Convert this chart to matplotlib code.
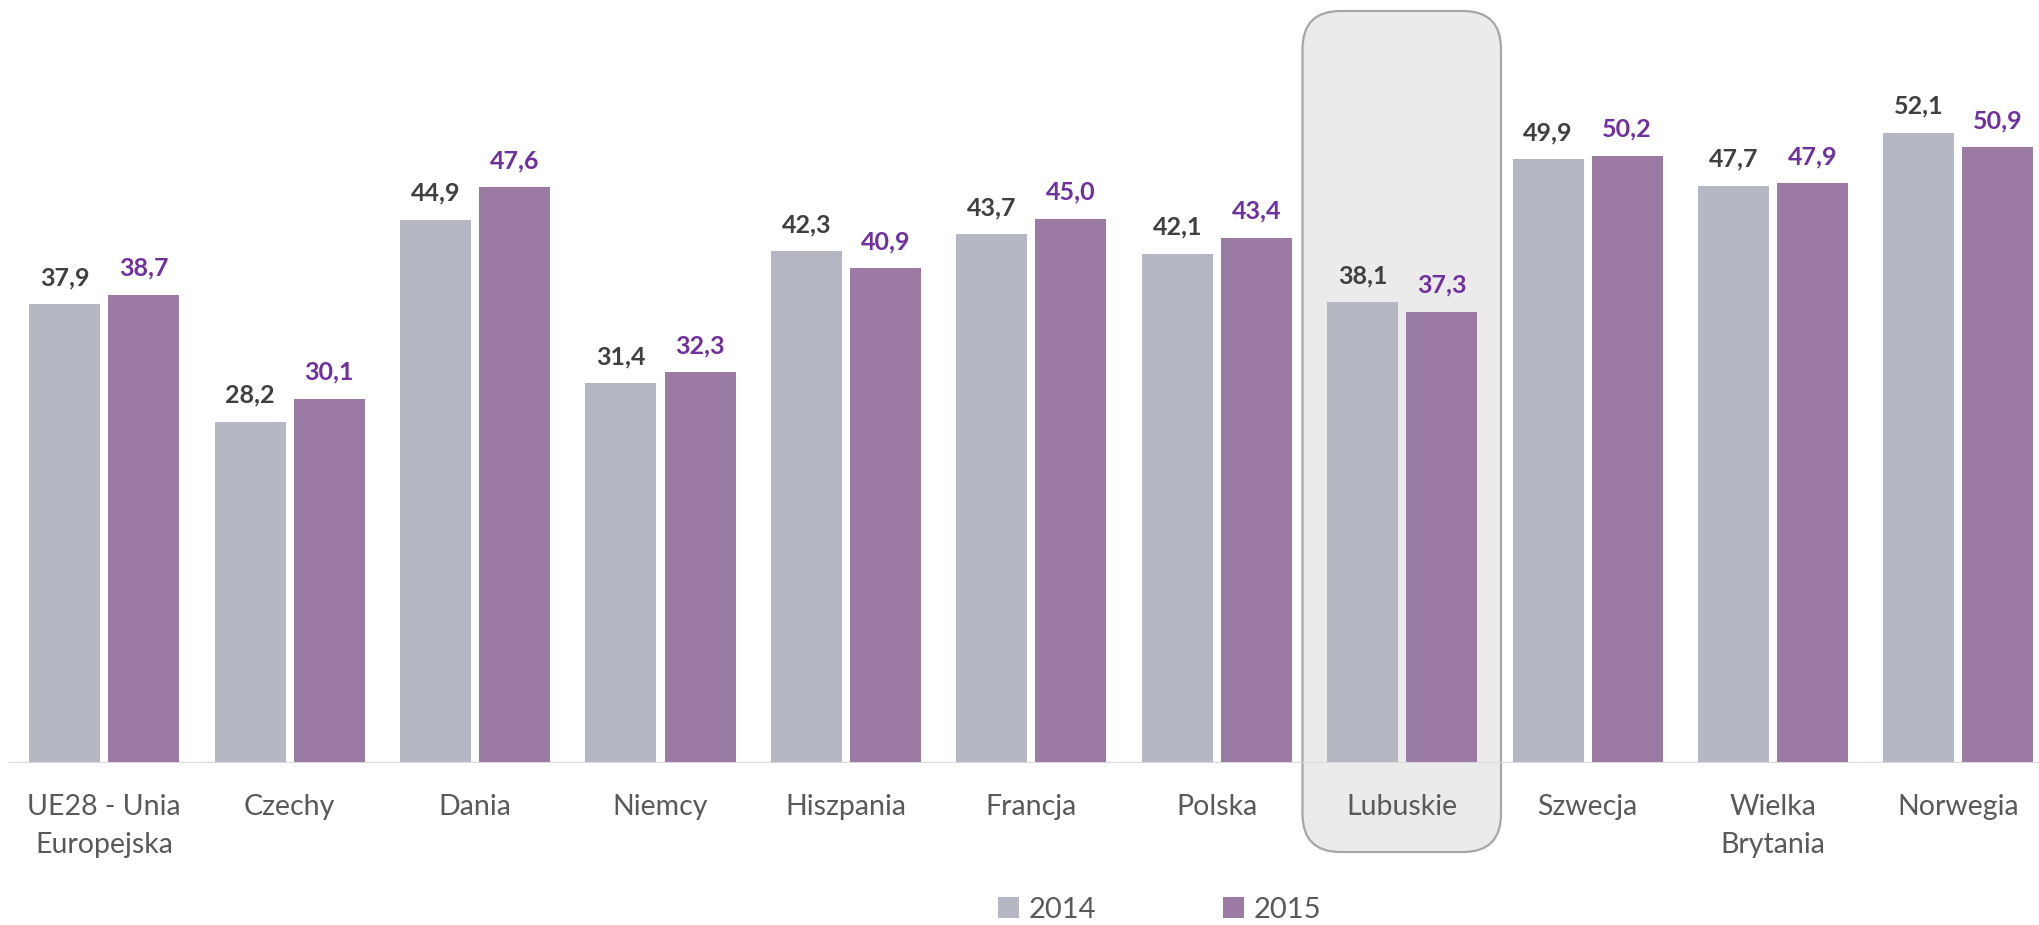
import matplotlib
matplotlib.use("Agg")
import matplotlib.pyplot as plt
from matplotlib.patches import FancyBboxPatch, Patch
import numpy as np

categories = ["UE28 - Unia\nEuropejska", "Czechy", "Dania", "Niemcy", "Hiszpania",
              "Francja", "Polska", "Lubuskie", "Szwecja", "Wielka\nBrytania", "Norwegia"]
values_2014 = [37.9, 28.2, 44.9, 31.4, 42.3, 43.7, 42.1, 38.1, 49.9, 47.7, 52.1]
values_2015 = [38.7, 30.1, 47.6, 32.3, 40.9, 45.0, 43.4, 37.3, 50.2, 47.9, 50.9]
series_labels = ["2014", "2015"]
highlight = "Lubuskie"

C14 = "#B5B7C4"
C15 = "#9B7BA3"
T14 = "#404040"
T15 = "#7030A0"
TXT = "#595959"
FONT = "Lato"

W, H = 2039, 925
fig = plt.figure(figsize=(W / 100, H / 100), dpi=100)
base_px = 763
ax = fig.add_axes([0, (H - base_px) / H, 1, base_px / H])

group_px = 185.4
first_px = 104.3
px_per_unit = 12.10
ax.set_xlim(-first_px / group_px, (W - first_px) / group_px)
ax.set_ylim(0, base_px / px_per_unit)

x = np.arange(len(categories))
bw = 71 / group_px
off = 39.5 / group_px
b1 = ax.bar(x - off, values_2014, bw, color=C14, zorder=3, label=series_labels[0])
b2 = ax.bar(x + off, values_2015, bw, color=C15, zorder=3, label=series_labels[1])

for rects, vals, col in ((b1, values_2014, T14), (b2, values_2015, T15)):
    for r, v in zip(rects, vals):
        ax.annotate(f"{v:.1f}".replace(".", ","),
                    (r.get_x() + r.get_width() / 2, r.get_height()),
                    xytext=(0, 13.7), textcoords="offset points",
                    ha="center", va="baseline", fontsize=18, fontweight="bold",
                    color=col, family=FONT, zorder=4)

# highlight box around the highlighted category
hi = categories.index(highlight)
left_px, right_px, top_px, bot_px = 1302.5, 1501.0, 11.0, 852.0
x0 = (left_px - first_px) / group_px
x1 = (right_px - first_px) / group_px
y1 = (base_px - top_px) / px_per_unit
y0 = (base_px - bot_px) / px_per_unit
aspect = group_px / px_per_unit
box = FancyBboxPatch((x0, y0), x1 - x0, y1 - y0,
                     boxstyle=f"round,pad=0,rounding_size={38 / group_px}",
                     mutation_aspect=aspect,
                     facecolor="#EBEBEB", edgecolor="#A6A6A6", linewidth=1.6,
                     clip_on=False, zorder=1)
ax.add_patch(box)

ax.axhline(0, xmin=10 / W, xmax=1, color="#D9D9D9", linewidth=1.5, zorder=5)

ax.set_xticks(x)
ax.set_xticklabels(categories, fontsize=20.5, color=TXT, family=FONT)
ax.tick_params(axis="x", length=0, pad=22.5)
for t in ax.get_xticklabels():
    t.set_linespacing(1.55)
    t.set_zorder(6)
ax.set_yticks([])
for s in ax.spines.values():
    s.set_visible(False)
ax.patch.set_alpha(0)

handles = [Patch(facecolor=C14), Patch(facecolor=C15)]
leg = fig.legend(handles, series_labels, loc="center", bbox_to_anchor=(1159.5 / W, 15 / H),
                 ncol=2, frameon=False, handlelength=0.72, handleheight=0.72,
                 handletextpad=0.34, columnspacing=4.35, borderpad=0, borderaxespad=0,
                 prop={"family": FONT, "size": 21})
for t in leg.get_texts():
    t.set_color(TXT)

fig.savefig("out.png", dpi=100)
